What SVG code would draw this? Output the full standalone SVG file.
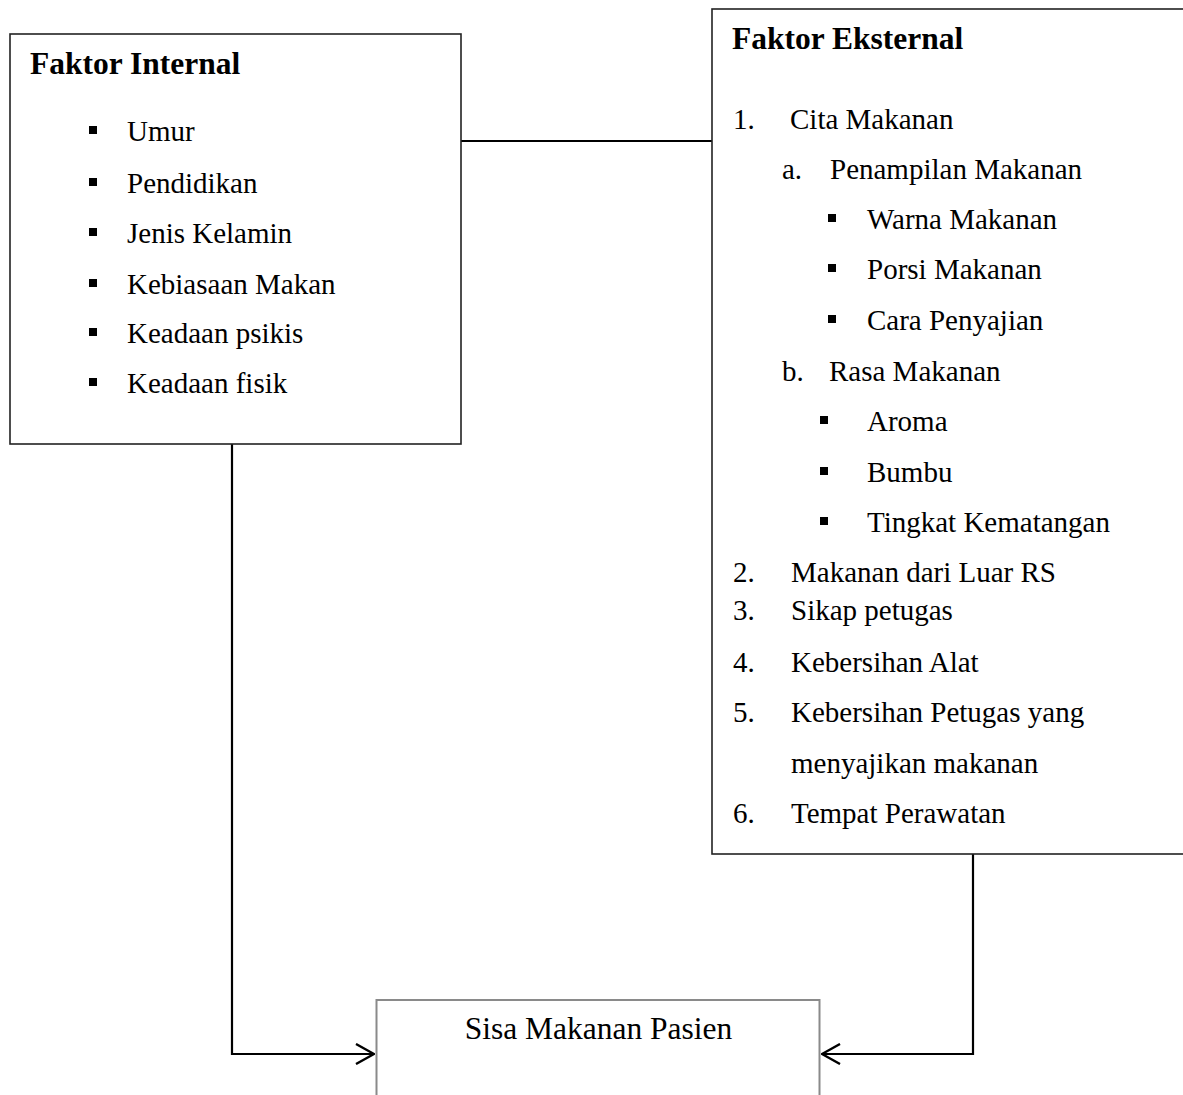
<svg xmlns="http://www.w3.org/2000/svg" width="1183" height="1095" viewBox="0 0 1183 1095">
<defs>
<style>
text{font-family:"Liberation Serif","Times New Roman",serif;fill:#000;}
.t{font-size:29px;}
.h{font-size:31.5px;font-weight:bold;}
.c{font-size:31.5px;text-anchor:middle;}
.box{fill:#fff;stroke:#222;stroke-width:1.6;}
.box2{fill:#fff;stroke:#8a8a8a;stroke-width:2;}
.ln{fill:none;stroke:#000;stroke-width:2.2;}
.b{fill:#000;}
</style>
<marker id="arr" viewBox="0 0 20 22" refX="19" refY="11" markerWidth="20" markerHeight="22" markerUnits="userSpaceOnUse" orient="auto">
<path d="M1,1 L19,11 L1,21" fill="none" stroke="#000" stroke-width="2.4"/>
</marker>
</defs>
<rect width="1183" height="1095" fill="#fff"/>
<g id="connectors">
<line class="ln" x1="461" y1="141" x2="712" y2="141"/>
<path class="ln" d="M232,444 V1054 H374" marker-end="url(#arr)"/>
<path class="ln" d="M973,854 V1054 H822" marker-end="url(#arr)"/>
</g>
<g id="faktor-internal">
<rect class="box" x="10" y="34" width="451" height="410"/>
<text class="h" x="30" y="74">Faktor Internal</text>
<rect class="b" x="89" y="126" width="8" height="8"/><text class="t" x="127" y="141">Umur</text>
<rect class="b" x="89" y="178" width="8" height="8"/><text class="t" x="127" y="193">Pendidikan</text>
<rect class="b" x="89" y="228" width="8" height="8"/><text class="t" x="127" y="243">Jenis Kelamin</text>
<rect class="b" x="89" y="279" width="8" height="8"/><text class="t" x="127" y="294">Kebiasaan Makan</text>
<rect class="b" x="89" y="328" width="8" height="8"/><text class="t" x="127" y="343">Keadaan psikis</text>
<rect class="b" x="89" y="378" width="8" height="8"/><text class="t" x="127" y="393">Keadaan fisik</text>
</g>
<g id="faktor-eksternal">
<rect class="box" x="712" y="9" width="480" height="845"/>
<text class="h" x="732" y="49">Faktor Eksternal</text>
<text class="t" x="733" y="129">1.</text><text class="t" x="790" y="129">Cita Makanan</text>
<text class="t" x="782" y="179">a.</text><text class="t" x="830" y="179">Penampilan Makanan</text>
<rect class="b" x="828" y="214" width="8" height="8"/><text class="t" x="867" y="229">Warna Makanan</text>
<rect class="b" x="828" y="264" width="8" height="8"/><text class="t" x="867" y="279">Porsi Makanan</text>
<rect class="b" x="828" y="315" width="8" height="8"/><text class="t" x="867" y="330">Cara Penyajian</text>
<text class="t" x="782" y="381">b.</text><text class="t" x="829" y="381">Rasa Makanan</text>
<rect class="b" x="820" y="416" width="8" height="8"/><text class="t" x="867" y="431">Aroma</text>
<rect class="b" x="820" y="467" width="8" height="8"/><text class="t" x="867" y="482">Bumbu</text>
<rect class="b" x="820" y="517" width="8" height="8"/><text class="t" x="867" y="532">Tingkat Kematangan</text>
<text class="t" x="733" y="582">2.</text><text class="t" x="791" y="582">Makanan dari Luar RS</text>
<text class="t" x="733" y="620">3.</text><text class="t" x="791" y="620">Sikap petugas</text>
<text class="t" x="733" y="672">4.</text><text class="t" x="791" y="672">Kebersihan Alat</text>
<text class="t" x="733" y="722">5.</text><text class="t" x="791" y="722">Kebersihan Petugas yang</text>
<text class="t" x="791" y="773">menyajikan makanan</text>
<text class="t" x="733" y="823">6.</text><text class="t" x="791" y="823">Tempat Perawatan</text>
</g>
<g id="sisa-makanan">
<rect class="box2" x="376.5" y="1000" width="443" height="110"/>
<text class="c" x="598.5" y="1039">Sisa Makanan Pasien</text>
</g>
</svg>
